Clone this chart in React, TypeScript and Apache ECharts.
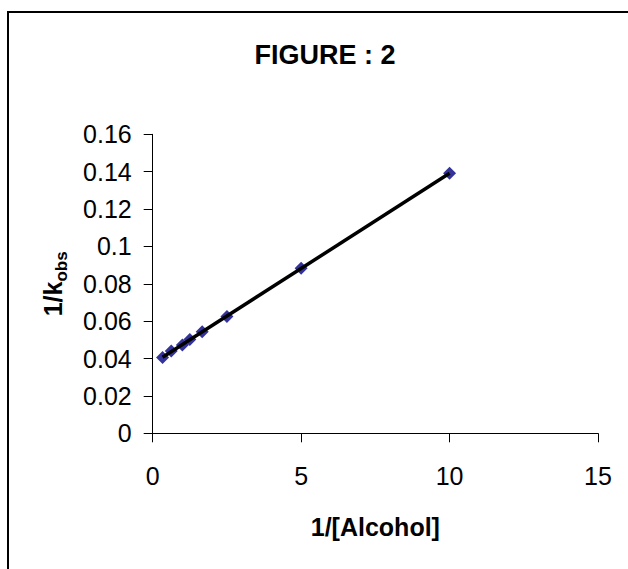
import React, { useEffect, useRef } from "react";
import * as echarts from "echarts";

const alcoholInv = [0.333, 0.625, 1.0, 1.25, 1.667, 2.5, 5, 10];
const kobsInv = [0.0405, 0.044, 0.0473, 0.0502, 0.0543, 0.0625, 0.0883, 0.1391];
const titleText = "FIGURE : 2";
const xName = "1/[Alcohol]";

const FONT = "'Liberation Sans', Arial, sans-serif";

function linearFit(xs: number[], ys: number[]) {
  const n = xs.length;
  const mx = xs.reduce((a, b) => a + b, 0) / n;
  const my = ys.reduce((a, b) => a + b, 0) / n;
  let sxy = 0;
  let sxx = 0;
  for (let i = 0; i < n; i++) {
    sxy += (xs[i] - mx) * (ys[i] - my);
    sxx += (xs[i] - mx) * (xs[i] - mx);
  }
  const slope = sxy / sxx;
  return { slope, intercept: my - slope * mx };
}

export default function App() {
  const ref = useRef<HTMLDivElement>(null);
  useEffect(() => {
    if (!ref.current) return;
    const chart = echarts.init(ref.current, undefined, { renderer: "svg" });
    const fit = linearFit(alcoholInv, kobsInv);
    const xMin = Math.min(...alcoholInv);
    const xMax = Math.max(...alcoholInv);
    const trend = [
      [xMin, fit.intercept + fit.slope * xMin],
      [xMax, fit.intercept + fit.slope * xMax],
    ];
    chart.setOption({
      animation: false,
      backgroundColor: "#ffffff",
      title: {
        text: titleText,
        left: 320,
        top: 36,
        textAlign: "center",
        textStyle: { fontFamily: FONT, fontSize: 27, fontWeight: "bold", color: "#000" },
      },
      graphic: [
        {
          type: "rect",
          shape: { x: 8, y: 12, width: 800, height: 800 },
          style: { fill: "none", stroke: "#000", lineWidth: 2 },
          silent: true,
        },
      ],
      grid: { left: 152.7, right: 30, top: 134.3, bottom: 135.7, containLabel: false },
      xAxis: {
        type: "value",
        min: 0,
        max: 15,
        interval: 5,
        name: xName,
        nameLocation: "middle",
        nameGap: 81,
        nameTextStyle: { fontFamily: FONT, fontSize: 25, fontWeight: "bold", color: "#000" },
        axisLine: { show: true, onZero: false, lineStyle: { color: "#000", width: 1 } },
        axisTick: { show: true, inside: false, length: 9, lineStyle: { color: "#000" } },
        axisLabel: { fontFamily: FONT, fontSize: 25, color: "#000", margin: 30 },
        splitLine: { show: false },
      },
      yAxis: {
        type: "value",
        min: 0,
        max: 0.16,
        interval: 0.02,
        name: "{a|1/k}{b|obs}",
        nameLocation: "middle",
        nameGap: 87,
        nameTextStyle: {
          fontFamily: FONT,
          fontWeight: "bold",
          color: "#000",
          rich: {
            a: { fontFamily: FONT, fontSize: 25, fontWeight: "bold", color: "#000", verticalAlign: "bottom", lineHeight: 26 },
            b: { fontFamily: FONT, fontSize: 17, fontWeight: "bold", color: "#000", verticalAlign: "bottom", lineHeight: 26, padding: [0, 0, -4, 0] },
          },
        },
        axisLine: { show: true, onZero: false, lineStyle: { color: "#000", width: 1 } },
        axisTick: { show: true, inside: false, length: 9, lineStyle: { color: "#000" } },
        axisLabel: { fontFamily: FONT, fontSize: 25, color: "#000", margin: 21 },
        splitLine: { show: false },
      },
      series: [
        {
          type: "scatter",
          data: alcoholInv.map((x, i) => [x, kobsInv[i]]),
          symbol: "diamond",
          symbolSize: 13,
          itemStyle: { color: "#000080" },
          z: 2,
        },
        {
          type: "line",
          data: trend,
          symbol: "none",
          lineStyle: { color: "#000", width: 3.5 },
          z: 3,
        },
      ],
    });
    return () => chart.dispose();
  }, []);
  return (
    <div
      ref={ref}
      style={{ position: "absolute", left: 0, top: 0, width: 628, height: 569 }}
    />
  );
}
